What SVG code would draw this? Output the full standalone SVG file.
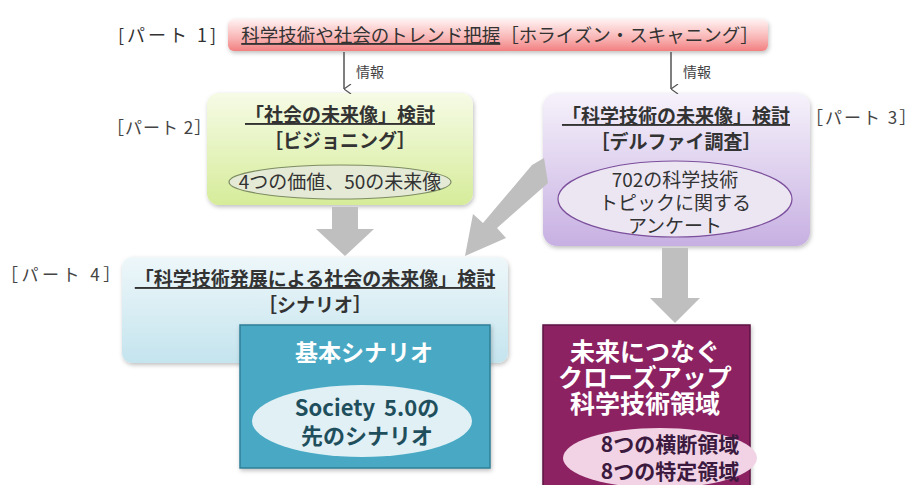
<svg xmlns="http://www.w3.org/2000/svg" width="920" height="485" viewBox="0 0 920 485">
<defs>
<linearGradient id="gPink" x1="0" y1="0" x2="0" y2="1"><stop offset="0" stop-color="#fff2f2"/><stop offset="0.6" stop-color="#f9b4b4"/><stop offset="1" stop-color="#f27f80"/></linearGradient>
<linearGradient id="gGreen" x1="0" y1="0" x2="0" y2="1"><stop offset="0" stop-color="#f6fbe6"/><stop offset="1" stop-color="#d6ec9a"/></linearGradient>
<linearGradient id="gPurple" x1="0" y1="0" x2="0" y2="1"><stop offset="0" stop-color="#f6f2fb"/><stop offset="1" stop-color="#c7b0e2"/></linearGradient>
<linearGradient id="gBlue" x1="0" y1="0" x2="0" y2="1"><stop offset="0" stop-color="#eef7fa"/><stop offset="1" stop-color="#c4e4ee"/></linearGradient>
<filter id="sh" x="-10%" y="-10%" width="120%" height="130%"><feDropShadow dx="1" dy="2" stdDeviation="2" flood-color="#000" flood-opacity="0.25"/></filter>
<marker id="thin" viewBox="0 0 10 10" refX="5" refY="10" markerWidth="10" markerHeight="10" markerUnits="userSpaceOnUse" orient="auto-start-reverse"><path d="M0,3 L5,10 L10,3" fill="none" stroke="#555" stroke-width="1.2"/></marker>
</defs>
<style>
text{font-family:"Noto Sans CJK JP","Noto Sans",sans-serif;}
.part{font-size:17px;fill:#444;}
.t{font-size:19px;font-weight:bold;fill:#333;text-anchor:middle;}
.ul{text-decoration:underline;}
.e{font-size:19px;fill:#333;text-anchor:middle;}
.w{font-weight:bold;fill:#fff;text-anchor:middle;}
.blk{fill:#bfbfbf;}
</style>

<g id="part1">
<text x="118" y="42" font-size="18" fill="#333" letter-spacing="3">[パート 1]</text>
<rect x="228" y="19" width="540" height="32" rx="6" fill="url(#gPink)" filter="url(#sh)"/>
<text x="500" y="42" font-size="18.5" fill="#333" text-anchor="middle"><tspan class="ul">科学技術や社会のトレンド把握</tspan>［ホライズン・スキャニング］</text>
</g>

<g id="part2">
<text class="part" x="107" y="134" letter-spacing="1">［パート 2］</text>
<rect x="207" y="93" width="266" height="112" rx="12" fill="url(#gGreen)" filter="url(#sh)"/>
<text class="t ul" x="340" y="122">「社会の未来像」検討</text>
<text class="t" x="340" y="148">［ビジョニング］</text>
<ellipse cx="340" cy="182" rx="111" ry="17" fill="#e4ead6" stroke="#7d8c62" stroke-width="1.2"/>
<text class="e" x="340" y="189">4つの価値、50の未来像</text>
</g>

<g id="part3">
<text class="part" x="806" y="124" letter-spacing="2">［パート 3］</text>
<rect x="543" y="93" width="267" height="153" rx="14" fill="url(#gPurple)" filter="url(#sh)"/>
<text class="t ul" x="676" y="123">「科学技術の未来像」検討</text>
<text class="t" x="676" y="149">［デルファイ調査］</text>
<ellipse cx="675" cy="199" rx="117" ry="38" fill="#ece6f3" stroke="#7b4f9b" stroke-width="1.2"/>
<text class="e" x="675" y="187"><tspan x="675">702の科学技術</tspan><tspan x="675" dy="23">トピックに関する</tspan><tspan x="675" dy="23">アンケート</tspan></text>
</g>

<g id="part4">
<text class="part" x="1" y="281" letter-spacing="3.5">［パート 4］</text>
<rect x="122" y="257" width="386" height="106" rx="10" fill="url(#gBlue)" filter="url(#sh)"/>
<text class="t ul" x="315" y="286">「科学技術発展による社会の未来像」検討</text>
<text class="t" x="315" y="312">［シナリオ］</text>
</g>

<g id="basic">
<rect x="240" y="325" width="250" height="143" fill="#4aa9c4" stroke="#2e7f96" stroke-width="1.5" filter="url(#sh)"/>
<text class="w" x="364" y="361" font-size="23">基本シナリオ</text>
<ellipse cx="362" cy="421" rx="110" ry="36" fill="#e0f0f5"/>
<text x="367" y="416" font-size="22" font-weight="bold" fill="#1f4f5c" text-anchor="middle"><tspan x="367" word-spacing="4">Society 5.0の</tspan><tspan x="367" dy="28">先のシナリオ</tspan></text>
</g>

<g id="closeup">
<rect x="543" y="325" width="207" height="165" fill="#8c2462" stroke="#5e1543" stroke-width="1.5" filter="url(#sh)"/>
<text class="w" x="645" y="361" font-size="25"><tspan x="645">未来につなぐ</tspan><tspan x="645" dy="26">クローズアップ</tspan><tspan x="645" dy="26">科学技術領域</tspan></text>
<ellipse cx="660" cy="458" rx="97" ry="30" fill="#f2d3e5"/>
<text x="670" y="452" font-size="21" font-weight="bold" fill="#3c1a3f" text-anchor="middle"><tspan x="670">8つの横断領域</tspan><tspan x="670" dy="27">8つの特定領域</tspan></text>
</g>

<g id="connectors">
<line x1="344" y1="52" x2="344" y2="89" stroke="#555" stroke-width="1.5" marker-end="url(#thin)"/>
<text x="356" y="77" font-size="14" fill="#444">情報</text>
<line x1="671" y1="52" x2="671" y2="89" stroke="#555" stroke-width="1.5" marker-end="url(#thin)"/>
<text x="683" y="77" font-size="14" fill="#444">情報</text>
<polygon class="blk" points="332,207 358,207 358,229 374,229 345,256 316,229 332,229"/>
<polygon class="blk" points="662,248 688,248 688,298 700,298 675,323 650,298 662,298"/>
<polygon class="blk" points="544,158 548,183 497,228 506,238 465,256 473,214 483,223 532,165"/>
</g>
</svg>
